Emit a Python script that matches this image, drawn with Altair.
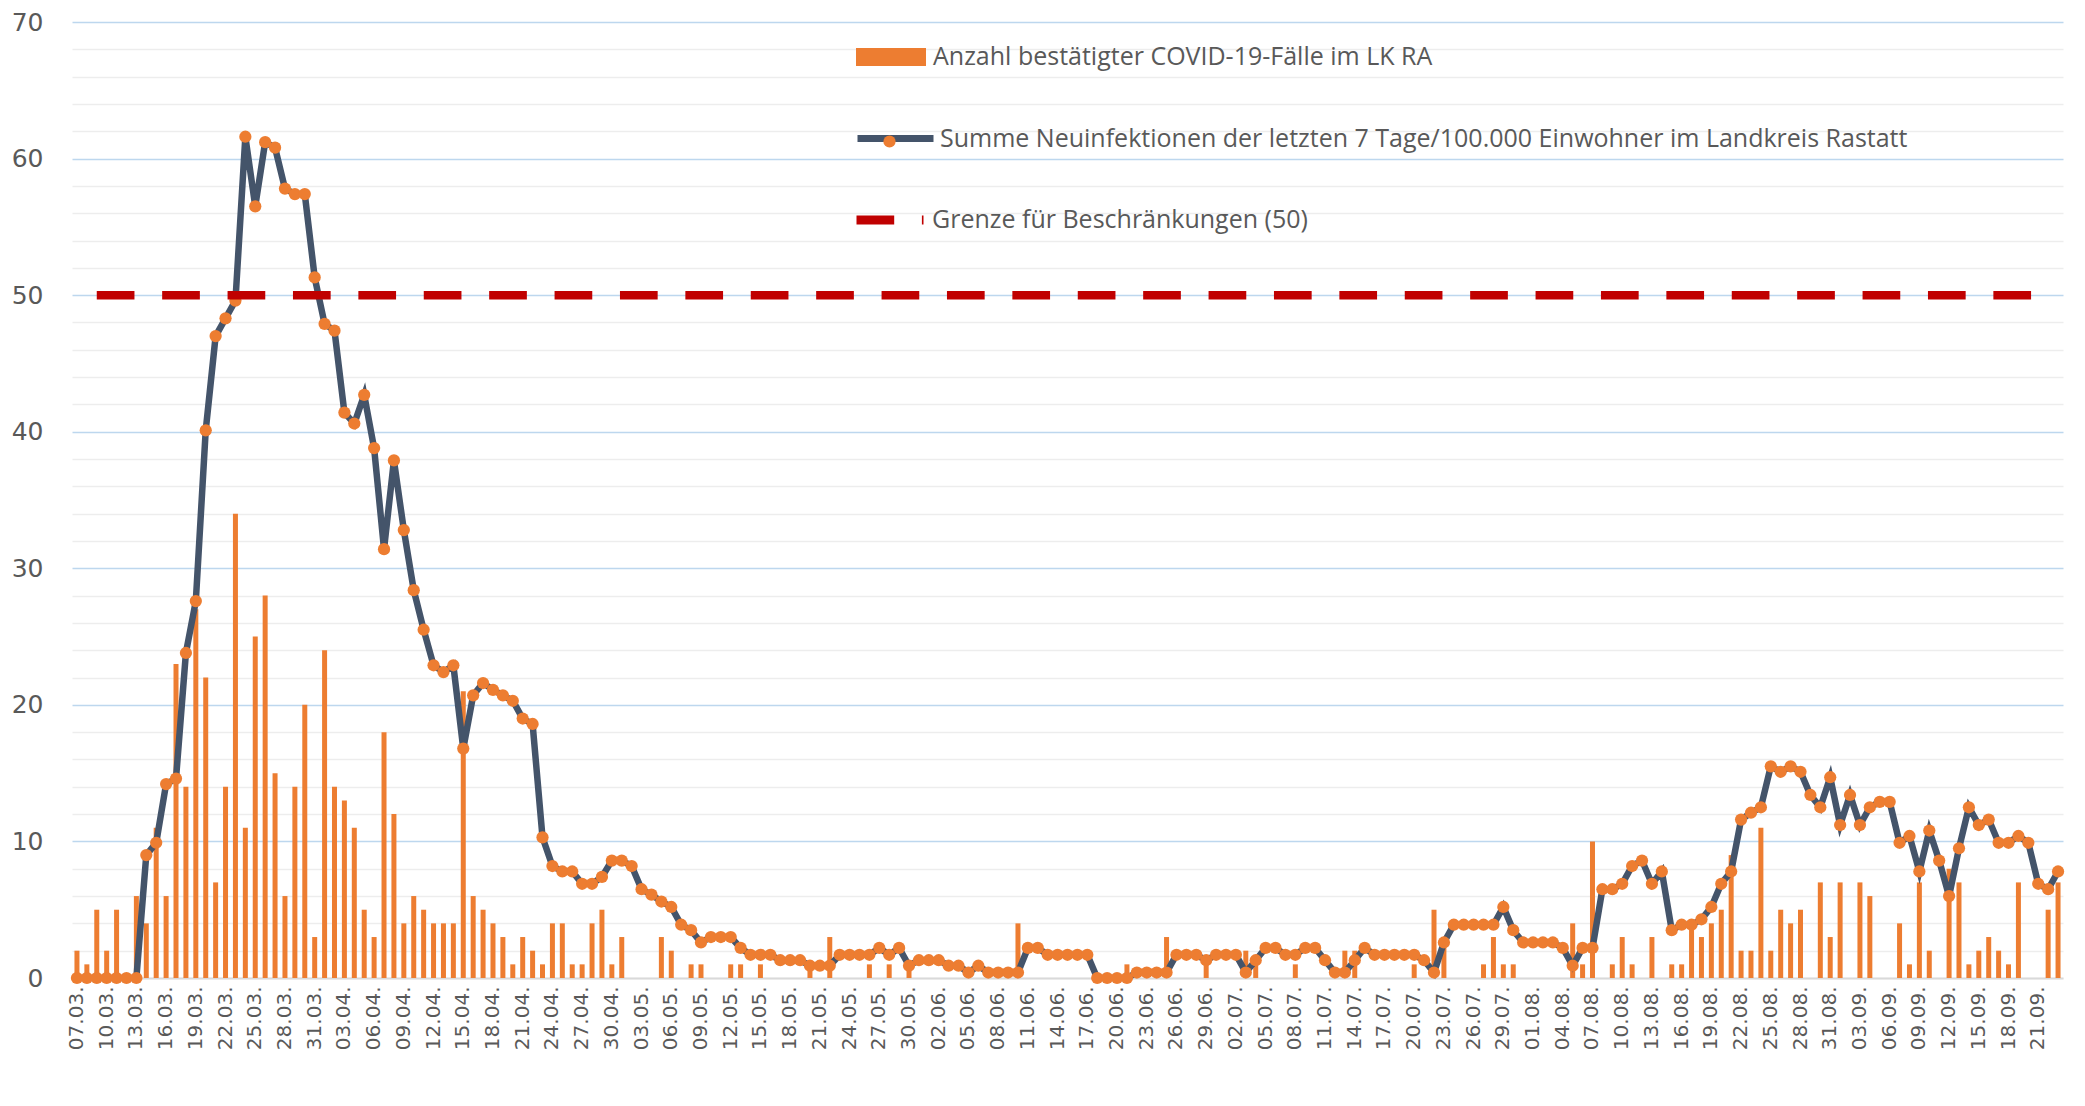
import altair as alt
import pandas as pd

# ---- categories (daily, 07.03.2020 - 23.09.2020) ----
dates = list(pd.date_range("2020-03-07", "2020-09-23").strftime("%d.%m."))
tick_labels = dates[::3]

# ---- daily confirmed cases (bars) ----
cases_mar = [2, 1, 5, 2, 5, 0, 6, 4, 11, 6, 23, 14, 27, 22, 7, 14, 34, 11, 25, 28, 15, 6, 14, 20, 3]
cases_apr = [24, 14, 13, 11, 5, 3, 18, 12, 4, 6, 5, 4, 4, 4, 21, 6, 5, 4, 3, 1, 3, 2, 1, 4, 4, 1, 1, 4, 5, 1]
cases_may = [3, 0, 0, 0, 3, 2, 0, 1, 1, 0, 0, 1, 1, 0, 1, 0, 0, 0, 0, 1, 0, 3, 0, 0, 0, 1, 0, 1, 0, 1, 0]
cases_jun = [0, 0, 0, 0, 0, 0, 0, 0, 0, 4, 0, 0, 0, 0, 0, 0, 0, 0, 0, 0, 1, 0, 0, 0, 3, 0, 0, 0, 1, 0]
cases_jul = [0, 0, 2, 1, 0, 0, 0, 1, 0, 0, 0, 0, 2, 2, 0, 0, 0, 0, 0, 1, 0, 5, 3, 0, 0, 0, 1, 3, 1, 1, 0]
cases_aug = [0, 0, 0, 0, 4, 1, 10, 0, 1, 3, 1, 0, 3, 0, 1, 1, 4, 3, 4, 5, 9, 2, 2, 11, 2, 5, 4, 5, 0, 7, 3]
cases_sep = [7, 0, 7, 6, 0, 0, 4, 1, 7, 2, 0, 8, 7, 1, 2, 3, 2, 1, 7, 0, 0, 5, 7]

# ---- 7-day incidence per 100,000 (line) ----
inc_mar = [0, 0, 0, 0, 0, 0, 0, 9.0, 9.9, 14.2, 14.6, 23.8, 27.6, 40.1, 47.0, 48.3, 49.6, 61.6, 56.5,
           61.2, 60.8, 57.8, 57.4, 57.4, 51.3]
inc_apr = [47.9, 47.4, 41.4, 40.6, 42.7, 38.8, 31.4, 37.9, 32.8, 28.4, 25.5, 22.9, 22.4, 22.9, 16.8,
           20.7, 21.6, 21.1, 20.7, 20.3, 19.0, 18.6, 10.3, 8.2, 7.8, 7.8, 6.9, 6.9, 7.4, 8.6]
inc_may = [8.6, 8.2, 6.5, 6.1, 5.6, 5.2, 3.9, 3.5, 2.6, 3.0, 3.0, 3.0, 2.2, 1.7, 1.7, 1.7, 1.3, 1.3,
           1.3, 0.9, 0.9, 0.9, 1.7, 1.7, 1.7, 1.7, 2.2, 1.7, 2.2, 0.9, 1.3]
inc_jun = [1.3, 1.3, 0.9, 0.9, 0.4, 0.9, 0.4, 0.4, 0.4, 0.4, 2.2, 2.2, 1.7, 1.7, 1.7, 1.7, 1.7, 0, 0,
           0, 0, 0.4, 0.4, 0.4, 0.4, 1.7, 1.7, 1.7, 1.3, 1.7]
inc_jul = [1.7, 1.7, 0.4, 1.3, 2.2, 2.2, 1.7, 1.7, 2.2, 2.2, 1.3, 0.4, 0.4, 1.3, 2.2, 1.7, 1.7, 1.7,
           1.7, 1.7, 1.3, 0.4, 2.6, 3.9, 3.9, 3.9, 3.9, 3.9, 5.2, 3.5, 2.6]
inc_aug = [2.6, 2.6, 2.6, 2.2, 0.9, 2.2, 2.2, 6.5, 6.5, 6.9, 8.2, 8.6, 6.9, 7.8, 3.5, 3.9, 3.9, 4.3,
           5.2, 6.9, 7.8, 11.6, 12.1, 12.5, 15.5, 15.1, 15.5, 15.1, 13.4, 12.5, 14.7]
inc_sep = [11.2, 13.4, 11.2, 12.5, 12.9, 12.9, 9.9, 10.4, 7.8, 10.8, 8.6, 6.0, 9.5, 12.5, 11.2, 11.6,
           9.9, 9.9, 10.4, 9.9, 6.9, 6.5, 7.8]

# ---- threshold ----
grenze = 50
grenze_start = "09.03."
grenze_end = "21.09."

y_ticks = [0, 2, 4, 6, 8, 10, 12, 14, 16, 18, 20, 22, 24, 26, 28, 30, 32, 34, 36, 38, 40,
           42, 44, 46, 48, 50, 52, 54, 56, 58, 60, 62, 64, 66, 68, 70]

S1 = "Anzahl bestätigter COVID-19-Fälle im LK RA"
S2 = "Summe Neuinfektionen der letzten 7 Tage/100.000 Einwohner im Landkreis Rastatt"
S3 = "Grenze für Beschränkungen (50)"

faelle = cases_mar + cases_apr + cases_may + cases_jun + cases_jul + cases_aug + cases_sep
inzidenz = inc_mar + inc_apr + inc_may + inc_jun + inc_jul + inc_aug + inc_sep

df = pd.DataFrame({"Datum": dates, "Faelle": faelle, "Inzidenz": inzidenz, "s1": S1, "s2": S2})
df_rule = pd.DataFrame({"Datum": [grenze_start], "Ende": [grenze_end], "y": [grenze], "s3": [S3]})

GRAY = "#595959"
ORANGE = "#ED7D31"
NAVY = "#44546A"
RED = "#C00000"

x_scale = alt.Scale(domain=dates, paddingInner=0, paddingOuter=0)
x_axis = alt.Axis(
    values=tick_labels,
    labelAngle=270,
    labelFont="DejaVu Sans",
    labelFontSize=20,
    labelColor=GRAY,
    labelPadding=8,
    labelOverlap=False,
    ticks=False,
    domainColor="#D9D9D9",
    domainWidth=2,
    grid=False,
    title=None,
)

y_scale = alt.Scale(domain=[0, 70], nice=False)
y_axis = alt.Axis(
    values=y_ticks,
    labelExpr="datum.value % 10 === 0 ? datum.label : ''",
    labelFont="DejaVu Sans",
    labelFontSize=25,
    labelColor=GRAY,
    labelPadding=29,
    labelOverlap=False,
    labelBound=False,
    labelFlush=False,
    ticks=False,
    domain=False,
    grid=True,
    gridColor={"condition": {"test": "datum.value % 10 === 0 && datum.value > 0", "value": "#BDD7EE"},
               "value": "#EDEDED"},
    gridWidth=1.4,
    title=None,
)

leg_common = dict(title=None, orient="none", labelFont="Open Sans", labelFontSize=25,
                  labelColor=GRAY, padding=0, labelLimit=2000)

bars = alt.Chart(df).mark_bar(size=5).encode(
    x=alt.X("Datum:N", scale=x_scale, axis=x_axis),
    y=alt.Y("Faelle:Q", scale=y_scale, axis=y_axis),
    color=alt.Color(
        "s1:N",
        scale=alt.Scale(range=[ORANGE]),
        legend=alt.Legend(legendX=784, legendY=0, symbolType="M-1,-0.26H1V0.26H-1Z",
                          symbolSize=4900, symbolStrokeWidth=0, labelOffset=7, **leg_common),
    ),
)

line = alt.Chart(df).mark_line(strokeWidth=6.5).encode(
    x=alt.X("Datum:N", scale=x_scale, axis=x_axis),
    y=alt.Y("Inzidenz:Q", scale=y_scale, axis=y_axis),
    stroke=alt.Stroke(
        "s2:N",
        scale=alt.Scale(range=[NAVY]),
        legend=alt.Legend(legendX=782, legendY=75, symbolType="stroke", symbolSize=5776,
                          symbolStrokeWidth=7, labelOffset=3, **leg_common),
    ),
)

points = alt.Chart(df).mark_point(filled=True, size=150, opacity=1).encode(
    x=alt.X("Datum:N", scale=x_scale, axis=x_axis),
    y=alt.Y("Inzidenz:Q", scale=y_scale, axis=y_axis),
    fill=alt.Fill(
        "s2:N",
        scale=alt.Scale(range=[ORANGE]),
        legend=alt.Legend(legendX=805, legendY=107, symbolType="circle", symbolSize=150,
                          symbolStrokeWidth=0, labelExpr="''", labelOffset=3, **leg_common),
    ),
)

rule = alt.Chart(df_rule).mark_rule(strokeWidth=8.5, color=RED).encode(
    x=alt.X("Datum:N", scale=x_scale, bandPosition=0.5, axis=x_axis),
    x2="Ende:N",
    y=alt.Y("y:Q", scale=y_scale, axis=y_axis),
    strokeDash=alt.StrokeDash(
        "s3:N",
        scale=alt.Scale(range=[[37.7, 27.7]]),
        legend=alt.Legend(legendX=780, legendY=160, symbolType="stroke", symbolSize=4489,
                          symbolStrokeColor=RED, symbolStrokeWidth=9, labelOffset=4, **leg_common),
    ),
)

chart = (
    alt.layer(bars, line, points, rule)
    .resolve_scale(fill="independent", stroke="independent", color="independent")
    .properties(
        width=1991,
        height=956,
        padding={"left": 64, "top": 14, "right": 6, "bottom": 90},
        autosize=alt.AutoSizeParams(type="none"),
        background="white",
    )
    .configure_view(strokeWidth=0)
)

chart.save("out.html", embed_options={"renderer": "svg", "actions": False})
